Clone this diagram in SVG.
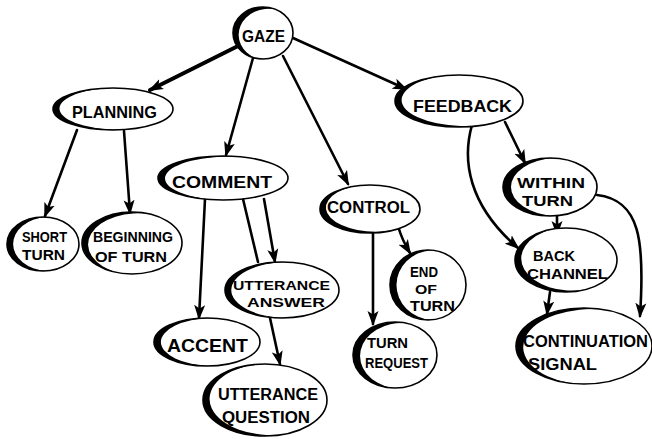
<svg xmlns="http://www.w3.org/2000/svg" xmlns:xlink="http://www.w3.org/1999/xlink" width="652" height="439" viewBox="0 0 652 439">
  <style>
    .bg { fill: #ffffff; }
    .edge { fill: none; stroke: #000; stroke-width: 2.6; stroke-linecap: round; marker-end: url(#head); }
    .edge.plain { marker-end: none; }
    .edge.heavy { stroke-width: 4; }
    .shell { fill: #fff; stroke: #000; stroke-width: 1.6; }
    .brush { fill: #000; }
    .lbl { font-family: "Liberation Sans", Arial, sans-serif; font-weight: bold; fill: #000; }
  </style>
  <defs>
    <!-- arrowhead: solid barbed triangle -->
    <marker id="head" markerUnits="userSpaceOnUse" markerWidth="16" markerHeight="12" refX="13" refY="5.5" orient="auto" viewBox="0 0 16 11">
      <path d="M0,0 L15,5.5 L0,11 L3.5,5.5 Z" fill="#000"/>
    </marker>
    <!-- brush crescents on a unit circle; inner circle shifted by d -->
    <path id="c20" d="M0.1,-0.99499 A1 1 0 1 0 0.1,0.99499 A1 1 0 0 1 0.1,-0.99499 Z"/>
    <path id="c17" d="M0.085,-0.99638 A1 1 0 1 0 0.085,0.99638 A1 1 0 0 1 0.085,-0.99638 Z"/>
    <path id="c13" d="M0.065,-0.99789 A1 1 0 1 0 0.065,0.99789 A1 1 0 0 1 0.065,-0.99789 Z"/>
    <path id="c11" d="M0.055,-0.99849 A1 1 0 1 0 0.055,0.99849 A1 1 0 0 1 0.055,-0.99849 Z"/>
  </defs>

  <rect class="bg" x="0" y="0" width="652" height="439"/>

  <g id="connectors">
    <path class="edge heavy" d="M240,45 L150,90"/>
    <path class="edge" d="M253,58 L226,155"/>
    <path class="edge" d="M283,56 L348,184"/>
    <path class="edge" d="M293,38 L406,89"/>
    <path class="edge" d="M77,130 L45,216"/>
    <path class="edge" d="M124,131 L130,213"/>
    <path class="edge" d="M205,199 L199,318"/>
    <path class="edge plain" d="M243,199 L258,262"/>
    <path class="edge" d="M264,199 L275,262"/>
    <path class="edge" d="M270,318 L280,364"/>
    <path class="edge" d="M373,232 L373,324"/>
    <path class="edge" d="M398,226 Q402,240 410,253"/>
    <path class="edge" d="M505,122 L525,163"/>
    <path class="edge" d="M472,125 C462,160 468,205 518,248"/>
    <path class="edge" d="M557,215 L557,234"/>
    <path class="edge" d="M597,195 C640,200 645,240 640,316"/>
    <path class="edge" d="M550,292 L547,314"/>
  </g>

  <g id="gaze">
    <ellipse class="shell" cx="263" cy="33" rx="30" ry="26"/>
    <use class="brush" href="#c20" transform="translate(263,33) scale(30,26) rotate(20)"/>
    <text class="lbl" x="242" y="42" font-size="17" textLength="43" lengthAdjust="spacingAndGlyphs">GAZE</text>
  </g>

  <g id="planning">
    <ellipse class="shell" cx="113" cy="109" rx="60" ry="21"/>
    <use class="brush" href="#c11" transform="translate(113,109) scale(60,21) rotate(-10)"/>
    <text class="lbl" x="72" y="118" font-size="17" textLength="85" lengthAdjust="spacingAndGlyphs">PLANNING</text>
  </g>

  <g id="comment">
    <ellipse class="shell" cx="223" cy="178" rx="65" ry="22"/>
    <use class="brush" href="#c11" transform="translate(223,178) scale(65,22) rotate(10)"/>
    <text class="lbl" x="172" y="188" font-size="17" textLength="100" lengthAdjust="spacingAndGlyphs">COMMENT</text>
  </g>

  <g id="feedback">
    <ellipse class="shell" cx="459" cy="101" rx="64" ry="26"/>
    <use class="brush" href="#c11" transform="translate(459,101) scale(64,26) rotate(-20)"/>
    <text class="lbl" x="413" y="112" font-size="17" textLength="99" lengthAdjust="spacingAndGlyphs">FEEDBACK</text>
  </g>

  <g id="within-turn">
    <ellipse class="shell" cx="550" cy="187" rx="47" ry="29"/>
    <use class="brush" href="#c17" transform="translate(550,187) scale(47,29)"/>
    <text class="lbl" x="517" y="188" font-size="14" textLength="68" lengthAdjust="spacingAndGlyphs">WITHIN</text>
    <text class="lbl" x="522" y="206" font-size="14" textLength="51" lengthAdjust="spacingAndGlyphs">TURN</text>
  </g>

  <g id="control">
    <ellipse class="shell" cx="370" cy="209" rx="50" ry="24"/>
    <use class="brush" href="#c13" transform="translate(370,209) scale(50,24) rotate(-25)"/>
    <text class="lbl" x="327" y="213" font-size="16" textLength="83" lengthAdjust="spacingAndGlyphs">CONTROL</text>
  </g>

  <g id="short-turn">
    <ellipse class="shell" cx="43" cy="244" rx="36" ry="27"/>
    <use class="brush" href="#c17" transform="translate(43,244) scale(36,27)"/>
    <text class="lbl" x="22" y="242" font-size="14" textLength="45" lengthAdjust="spacingAndGlyphs">SHORT</text>
    <text class="lbl" x="22" y="260" font-size="14" textLength="43" lengthAdjust="spacingAndGlyphs">TURN</text>
  </g>

  <g id="beginning-of-turn">
    <ellipse class="shell" cx="132" cy="243" rx="50" ry="31"/>
    <use class="brush" href="#c13" transform="translate(132,243) scale(50,31) rotate(20)"/>
    <text class="lbl" x="93" y="242" font-size="14" textLength="80" lengthAdjust="spacingAndGlyphs">BEGINNING</text>
    <text class="lbl" x="95" y="262" font-size="14" textLength="72" lengthAdjust="spacingAndGlyphs">OF TURN</text>
  </g>

  <g id="utterance-answer">
    <ellipse class="shell" cx="282" cy="290" rx="57" ry="28"/>
    <use class="brush" href="#c11" transform="translate(282,290) scale(57,28)"/>
    <text class="lbl" x="233" y="290" font-size="13" textLength="97" lengthAdjust="spacingAndGlyphs">UTTERANCE</text>
    <text class="lbl" x="247" y="307" font-size="13" textLength="78" lengthAdjust="spacingAndGlyphs">ANSWER</text>
  </g>

  <g id="accent">
    <ellipse class="shell" cx="207" cy="342" rx="53" ry="24"/>
    <use class="brush" href="#c13" transform="translate(207,342) scale(53,24)"/>
    <text class="lbl" x="167" y="352" font-size="18" textLength="81" lengthAdjust="spacingAndGlyphs">ACCENT</text>
  </g>

  <g id="utterance-question">
    <ellipse class="shell" cx="265" cy="400" rx="62" ry="36"/>
    <use class="brush" href="#c11" transform="translate(265,400) scale(62,36) rotate(-15)"/>
    <text class="lbl" x="218" y="400" font-size="16" textLength="100" lengthAdjust="spacingAndGlyphs">UTTERANCE</text>
    <text class="lbl" x="222" y="423" font-size="16" textLength="88" lengthAdjust="spacingAndGlyphs">QUESTION</text>
  </g>

  <g id="end-of-turn">
    <ellipse class="shell" cx="428" cy="285" rx="38" ry="35"/>
    <use class="brush" href="#c17" transform="translate(428,285) scale(38,35)"/>
    <text class="lbl" x="410" y="277" font-size="14" textLength="28" lengthAdjust="spacingAndGlyphs">END</text>
    <text class="lbl" x="415" y="294" font-size="13" textLength="22" lengthAdjust="spacingAndGlyphs">OF</text>
    <text class="lbl" x="410" y="311" font-size="14" textLength="45" lengthAdjust="spacingAndGlyphs">TURN</text>
  </g>

  <g id="turn-request">
    <ellipse class="shell" cx="395" cy="355" rx="42" ry="33"/>
    <use class="brush" href="#c17" transform="translate(395,355) scale(42,33) rotate(10)"/>
    <text class="lbl" x="367" y="348" font-size="14" textLength="41" lengthAdjust="spacingAndGlyphs">TURN</text>
    <text class="lbl" x="365" y="368" font-size="14" textLength="63" lengthAdjust="spacingAndGlyphs">REQUEST</text>
  </g>

  <g id="back-channel">
    <ellipse class="shell" cx="566" cy="260" rx="51" ry="32"/>
    <use class="brush" href="#c13" transform="translate(566,260) scale(51,32) rotate(-20)"/>
    <text class="lbl" x="533" y="261" font-size="15" textLength="42" lengthAdjust="spacingAndGlyphs">BACK</text>
    <text class="lbl" x="527" y="279" font-size="14" textLength="81" lengthAdjust="spacingAndGlyphs">CHANNEL</text>
  </g>

  <g id="continuation-signal">
    <ellipse class="shell" cx="584" cy="346" rx="68" ry="38"/>
    <use class="brush" href="#c11" transform="translate(584,346) scale(68,38) rotate(15)"/>
    <text class="lbl" x="523" y="347" font-size="16" textLength="125" lengthAdjust="spacingAndGlyphs">CONTINUATION</text>
    <text class="lbl" x="528" y="370" font-size="16" textLength="69" lengthAdjust="spacingAndGlyphs">SIGNAL</text>
  </g>
</svg>
